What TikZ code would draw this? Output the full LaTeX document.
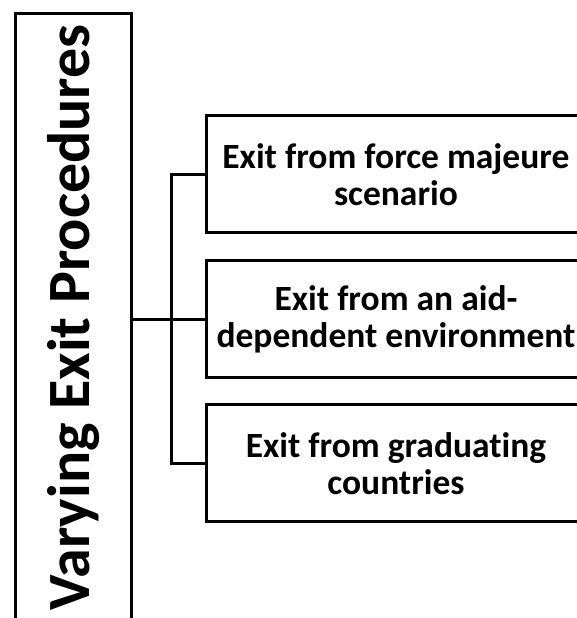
\documentclass[tikz,border=0pt]{standalone}
\usepackage{fontspec}
\setmainfont{Carlito}[Ligatures=NoCommon]
\begin{document}
\begin{tikzpicture}[x=1pt,y=1pt,
  line width=3pt,
  rootbox/.style={draw, rectangle, minimum width=116pt, minimum height=640pt, inner sep=0pt},
  titletext/.style={rotate=90, inner sep=0pt, font=\fontsize{60}{72}\selectfont\bfseries},
  leafbox/.style={draw, rectangle, minimum width=380pt, minimum height=117pt, inner sep=0pt,
    align=center, font=\fontsize{35.5}{37}\selectfont\bfseries},
  link/.style={draw, line width=3pt}]
\useasboundingbox (0,0) rectangle (577,618);
\clip (0,0) rectangle (577,618);

% root box with its rotated title
\node[rootbox] (root) at (73,284) {};
\node[titletext, anchor=base west] (title) at (89,6) {Varying Exit Procedures};

% the three exit cases
\node[leafbox] (box1) at (396,443.5) {Exit from force majeure\\scenario};
\node[leafbox] (box2) at (396,298.5) {Exit from an aid-\\dependent environment};
\node[leafbox] (box3) at (396,154.5) {Exit from graduating\\countries};

% tree connectors
\coordinate (j) at (171,298.5);
\draw[link] (root.east |- box2.west) -- (box2.west);
\draw[link] (box1.west) -| (j) |- (box3.west);
\end{tikzpicture}
\end{document}
